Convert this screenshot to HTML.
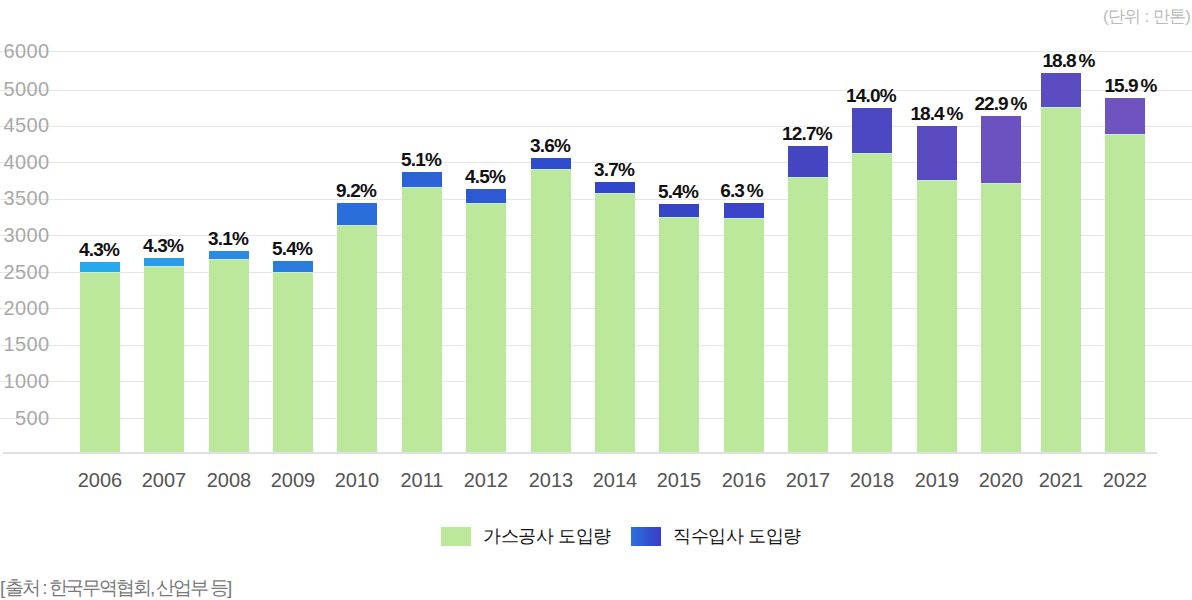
<!DOCTYPE html><html><head><meta charset="utf-8"><style>
html,body{margin:0;padding:0;background:#fff;width:1192px;height:600px;overflow:hidden;position:relative}
body{font-family:"Liberation Sans",sans-serif}
.a{position:absolute;white-space:nowrap;line-height:1}
.yl{color:#a9a9a9;font-size:20px;text-align:right;width:60px;left:-10.5px;letter-spacing:0.4px}
.xl{color:#555;font-size:20px;text-align:center;width:80px}
.pl{color:#111;font-size:19px;font-weight:bold;text-align:center;width:90px;letter-spacing:-0.8px}
svg{position:absolute;left:0;top:0}
</style></head><body>
<svg width="1192" height="600" shape-rendering="crispEdges"><rect x="0" y="51.0" width="1192" height="1" fill="#e6e6e6"/><rect x="0" y="89.5" width="1192" height="1" fill="#e6e6e6"/><rect x="0" y="125.5" width="1192" height="1" fill="#e6e6e6"/><rect x="0" y="162.0" width="1192" height="1" fill="#e6e6e6"/><rect x="0" y="198.5" width="1192" height="1" fill="#e6e6e6"/><rect x="0" y="235.0" width="1192" height="1" fill="#e6e6e6"/><rect x="0" y="272.0" width="1192" height="1" fill="#e6e6e6"/><rect x="0" y="308.0" width="1192" height="1" fill="#e6e6e6"/><rect x="0" y="344.5" width="1192" height="1" fill="#e6e6e6"/><rect x="0" y="381.0" width="1192" height="1" fill="#e6e6e6"/><rect x="0" y="418.0" width="1192" height="1" fill="#e6e6e6"/><rect x="3" y="452" width="1154" height="2" fill="#e0e0e0"/><rect x="80" y="272" width="40" height="180" fill="#bce89b"/><rect x="80" y="262" width="40" height="10" fill="#29a9ec"/><rect x="80" y="272" width="40" height="1" fill="#c4ecd8"/><rect x="144" y="266" width="40" height="186" fill="#bce89b"/><rect x="144" y="258" width="40" height="8" fill="#2b9be8"/><rect x="144" y="266" width="40" height="1" fill="#c4ecd8"/><rect x="209" y="259" width="40" height="193" fill="#bce89b"/><rect x="209" y="251" width="40" height="8" fill="#2b8ae2"/><rect x="209" y="259" width="40" height="1" fill="#c4ecd8"/><rect x="273" y="272" width="40" height="180" fill="#bce89b"/><rect x="273" y="261" width="40" height="11" fill="#2a7cdd"/><rect x="273" y="272" width="40" height="1" fill="#c4ecd8"/><rect x="337" y="225" width="40" height="227" fill="#bce89b"/><rect x="337" y="203" width="40" height="22" fill="#2a6edb"/><rect x="337" y="225" width="40" height="1" fill="#c4ecd8"/><rect x="402" y="187" width="40" height="265" fill="#bce89b"/><rect x="402" y="172" width="40" height="15" fill="#2b63d6"/><rect x="402" y="187" width="40" height="1" fill="#c4ecd8"/><rect x="466" y="203" width="40" height="249" fill="#bce89b"/><rect x="466" y="189" width="40" height="14" fill="#2d59d3"/><rect x="466" y="203" width="40" height="1" fill="#c4ecd8"/><rect x="531" y="169" width="40" height="283" fill="#bce89b"/><rect x="531" y="158" width="40" height="11" fill="#2f4ccd"/><rect x="531" y="169" width="40" height="1" fill="#c4ecd8"/><rect x="595" y="193" width="40" height="259" fill="#bce89b"/><rect x="595" y="182" width="40" height="11" fill="#3146ca"/><rect x="595" y="193" width="40" height="1" fill="#c4ecd8"/><rect x="659" y="217" width="40" height="235" fill="#bce89b"/><rect x="659" y="204" width="40" height="13" fill="#3644c6"/><rect x="659" y="217" width="40" height="1" fill="#c4ecd8"/><rect x="724" y="218" width="40" height="234" fill="#bce89b"/><rect x="724" y="203" width="40" height="15" fill="#3b44c6"/><rect x="724" y="218" width="40" height="1" fill="#c4ecd8"/><rect x="788" y="177" width="40" height="275" fill="#bce89b"/><rect x="788" y="146" width="40" height="31" fill="#4545c2"/><rect x="788" y="177" width="40" height="1" fill="#c4ecd8"/><rect x="852" y="152.5" width="40" height="299.5" fill="#bce89b"/><rect x="852" y="108" width="40" height="44.5" fill="#4c48c2"/><rect x="852" y="152.5" width="40" height="1" fill="#c4ecd8"/><rect x="917" y="180" width="40" height="272" fill="#bce89b"/><rect x="917" y="126" width="40" height="54" fill="#5a4bc2"/><rect x="917" y="180" width="40" height="1" fill="#c4ecd8"/><rect x="981" y="183" width="40" height="269" fill="#bce89b"/><rect x="981" y="116" width="40" height="67" fill="#6b52c0"/><rect x="981" y="183" width="40" height="1" fill="#c4ecd8"/><rect x="1041" y="107" width="40" height="345" fill="#bce89b"/><rect x="1041" y="73" width="40" height="34" fill="#5b4cc2"/><rect x="1041" y="107" width="40" height="1" fill="#c4ecd8"/><rect x="1105" y="134" width="40" height="318" fill="#bce89b"/><rect x="1105" y="98" width="40" height="36" fill="#6f54c0"/><rect x="1105" y="134" width="40" height="1" fill="#c4ecd8"/></svg>
<div class="a yl" style="top:40.5px">6000</div>
<div class="a yl" style="top:79px">5000</div>
<div class="a yl" style="top:115px">4500</div>
<div class="a yl" style="top:151.5px">4000</div>
<div class="a yl" style="top:188px">3500</div>
<div class="a yl" style="top:224.5px">3000</div>
<div class="a yl" style="top:261.5px">2500</div>
<div class="a yl" style="top:297.5px">2000</div>
<div class="a yl" style="top:334px">1500</div>
<div class="a yl" style="top:370.5px">1000</div>
<div class="a yl" style="top:407.5px">500</div>
<div class="a xl" style="left:60px;top:470px">2006</div>
<div class="a pl" style="left:54px;top:240px">4.3%</div>
<div class="a xl" style="left:124px;top:470px">2007</div>
<div class="a pl" style="left:118px;top:236px">4.3%</div>
<div class="a xl" style="left:189px;top:470px">2008</div>
<div class="a pl" style="left:183px;top:229px">3.1%</div>
<div class="a xl" style="left:253px;top:470px">2009</div>
<div class="a pl" style="left:247px;top:239px">5.4%</div>
<div class="a xl" style="left:317px;top:470px">2010</div>
<div class="a pl" style="left:311px;top:181px">9.2%</div>
<div class="a xl" style="left:382px;top:470px">2011</div>
<div class="a pl" style="left:376px;top:150px">5.1%</div>
<div class="a xl" style="left:446px;top:470px">2012</div>
<div class="a pl" style="left:440px;top:167px">4.5%</div>
<div class="a xl" style="left:511px;top:470px">2013</div>
<div class="a pl" style="left:505px;top:136px">3.6%</div>
<div class="a xl" style="left:575px;top:470px">2014</div>
<div class="a pl" style="left:569px;top:160px">3.7%</div>
<div class="a xl" style="left:639px;top:470px">2015</div>
<div class="a pl" style="left:633px;top:182px">5.4%</div>
<div class="a xl" style="left:704px;top:470px">2016</div>
<div class="a pl" style="left:697px;top:181px;letter-spacing:-1px">6.3<span style="margin-left:3px;letter-spacing:0">%</span></div>
<div class="a xl" style="left:768px;top:470px">2017</div>
<div class="a pl" style="left:762px;top:124px">12.7%</div>
<div class="a xl" style="left:832px;top:470px">2018</div>
<div class="a pl" style="left:826px;top:86px">14.0%</div>
<div class="a xl" style="left:897px;top:470px">2019</div>
<div class="a pl" style="left:892px;top:104px;letter-spacing:-1px">18.4<span style="margin-left:3px;letter-spacing:0">%</span></div>
<div class="a xl" style="left:961px;top:470px">2020</div>
<div class="a pl" style="left:956px;top:94px;letter-spacing:-1px">22.9<span style="margin-left:3px;letter-spacing:0">%</span></div>
<div class="a xl" style="left:1021px;top:470px">2021</div>
<div class="a pl" style="left:1024px;top:51px;letter-spacing:-1px">18.8<span style="margin-left:3px;letter-spacing:0">%</span></div>
<div class="a xl" style="left:1085px;top:470px">2022</div>
<div class="a pl" style="left:1086px;top:76px;letter-spacing:-1px">15.9<span style="margin-left:3px;letter-spacing:0">%</span></div>
<div class="a" style="left:1103px;top:8px;font-size:17px;color:#bbb;letter-spacing:-0.7px">(단위 : 만톤)</div>
<div class="a" style="left:441px;top:527px;width:30px;height:19px;background:#bce89b"></div>
<div class="a" style="left:483px;top:527px;font-size:18px;color:#151515;font-weight:500;letter-spacing:-0.4px">가스공사 도입량</div>
<div class="a" style="left:631px;top:527px;width:30px;height:19px;background:linear-gradient(90deg,#2a72de,#3b3bc8)"></div>
<div class="a" style="left:673px;top:527px;font-size:18px;color:#151515;font-weight:500;letter-spacing:-0.4px">직수입사 도입량</div>
<div class="a" style="left:0px;top:578px;font-size:19px;color:#7a7a7a;letter-spacing:-2.1px"><span style="margin-right:2px">[</span>출처 : 한국무역협회, 산업부 등]</div>
</body></html>
